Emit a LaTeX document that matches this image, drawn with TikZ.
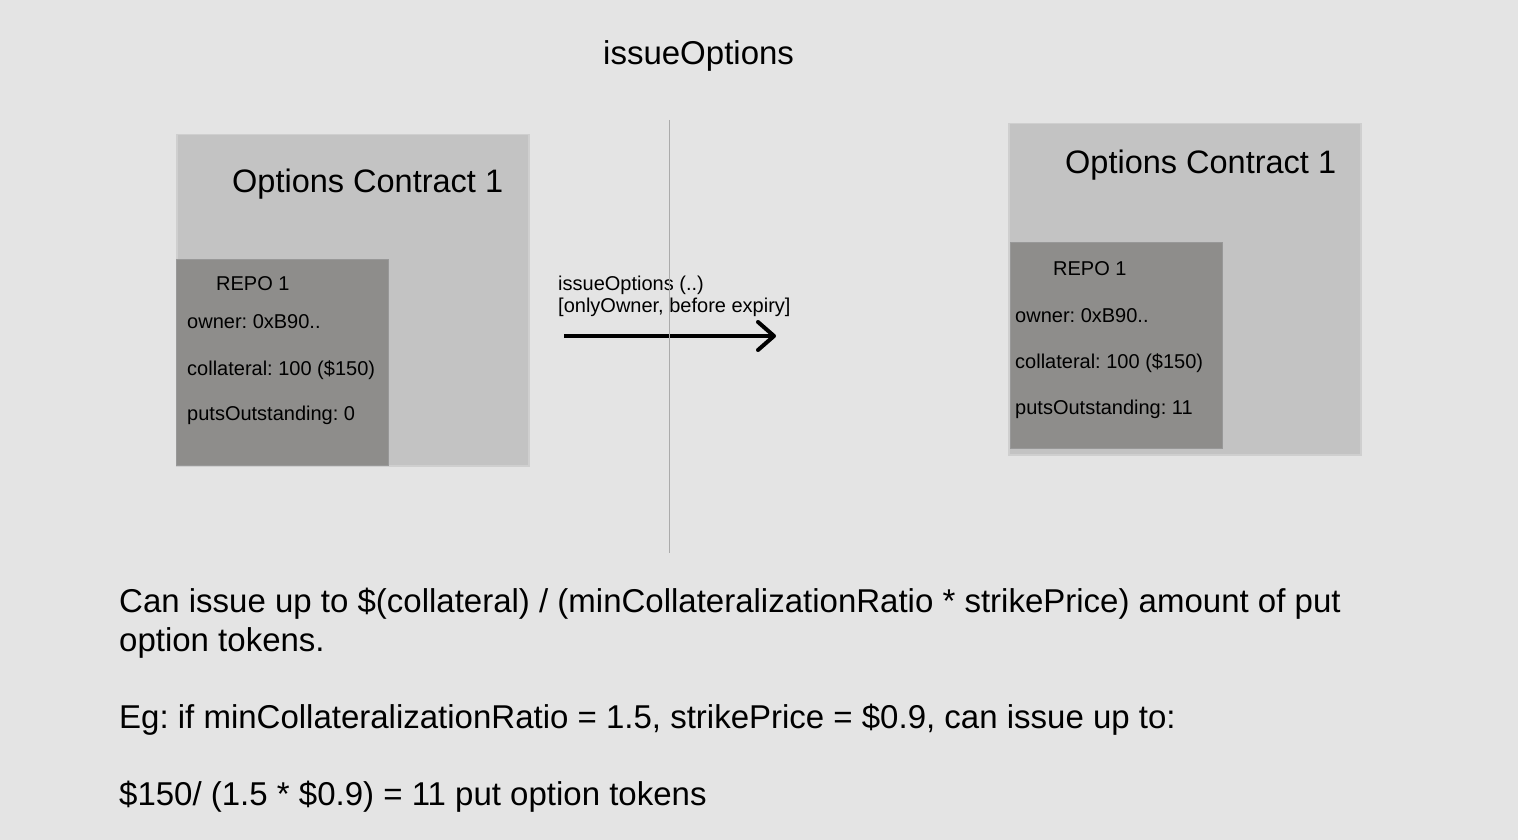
\documentclass[tikz,border=0pt]{standalone}
\usepackage{fontspec}
\setmainfont{Liberation Sans}
\usetikzlibrary{arrows.meta}
\definecolor{bgc}{HTML}{E4E4E4}
\definecolor{outerc}{HTML}{C3C3C3}
\definecolor{outerb}{HTML}{CFCFCF}
\definecolor{innerc}{HTML}{8E8D8B}
\definecolor{innerb}{HTML}{989898}
\definecolor{vline}{HTML}{ABABAB}
\begin{document}
\frenchspacing
\begin{tikzpicture}[x=1pt,y=-1pt,
  outerbox/.style={rectangle,anchor=north west,inner sep=0,fill=outerc,draw=outerb,line width=1.5pt,minimum width=352pt,minimum height=331pt},
  innerbox/.style={rectangle,anchor=north west,inner sep=0,fill=innerc,draw=innerb,line width=1pt,minimum width=212pt,minimum height=206pt},
  txt/.style={anchor=base west,inner sep=0,text=black},
  big/.style={txt,font=\fontsize{33}{40}\selectfont\frenchspacing},
  boxtitle/.style={txt,font=\fontsize{32.5}{40}\selectfont},
  small/.style={txt,font=\fontsize{20}{24}\selectfont\frenchspacing}
]
\fill[bgc] (0,0) rectangle (1518,840);
\useasboundingbox (0,0) rectangle (1518,840);

\node[big] (title) at (603,65) {issueOptions};

% left
\node[outerbox] (lo) at (176,134) {};
\node[innerbox] (li) at (176,259) {};
\node[boxtitle] (lt) at (232,193) {Options Contract 1};
\node[small] (lr) at (216,290) {REPO 1};
\node[small] (lo1) at (187,328) {owner: 0xB90..};
\node[small] (lo2) at (187,375) {collateral: 100 (\$150)};
\node[small] (lo3) at (187,420) {putsOutstanding: 0};

% right
\node[outerbox] (ro) at (1008,123) {};
\node[innerbox] (ri) at (1010,242) {};
\node[boxtitle] (rt) at (1065,173) {Options Contract 1};
\node[small] (rr) at (1053,275) {REPO 1};
\node[small] (ro1) at (1015,322) {owner: 0xB90..};
\node[small] (ro2) at (1015,368) {collateral: 100 (\$150)};
\node[small] (ro3) at (1015,414) {putsOutstanding: 11};

% arrow
\coordinate (a1) at (564,336);
\coordinate (a2) at (776,336);
\draw[line width=4pt,-{Straight Barb[length=16pt,width=28pt,line width=4pt,round]}] (a1) -- (a2);
\node[small] (al1) at (558,290) {issueOptions (..)};
\node[small] (al2) at (558,312) {[onlyOwner, before expiry]};

% separator
\coordinate (v1) at (669,120);
\coordinate (v2) at (669,553);
\draw[vline,line width=1pt] (v1) -- (v2);

% bottom text
\node[big] (b1) at (119,612) {Can issue up to \$(collateral) / (minCollateralizationRatio * strikePrice) amount of put};
\node[big] (b2) at (119,651) {option tokens.};
\node[big] (b3) at (119,728) {Eg: if minCollateralizationRatio = 1.5, strikePrice = \$0.9, can issue up to:};
\node[big] (b4) at (119,805) {\$150/ (1.5 * \$0.9) = 11 put option tokens};
\end{tikzpicture}
\end{document}
